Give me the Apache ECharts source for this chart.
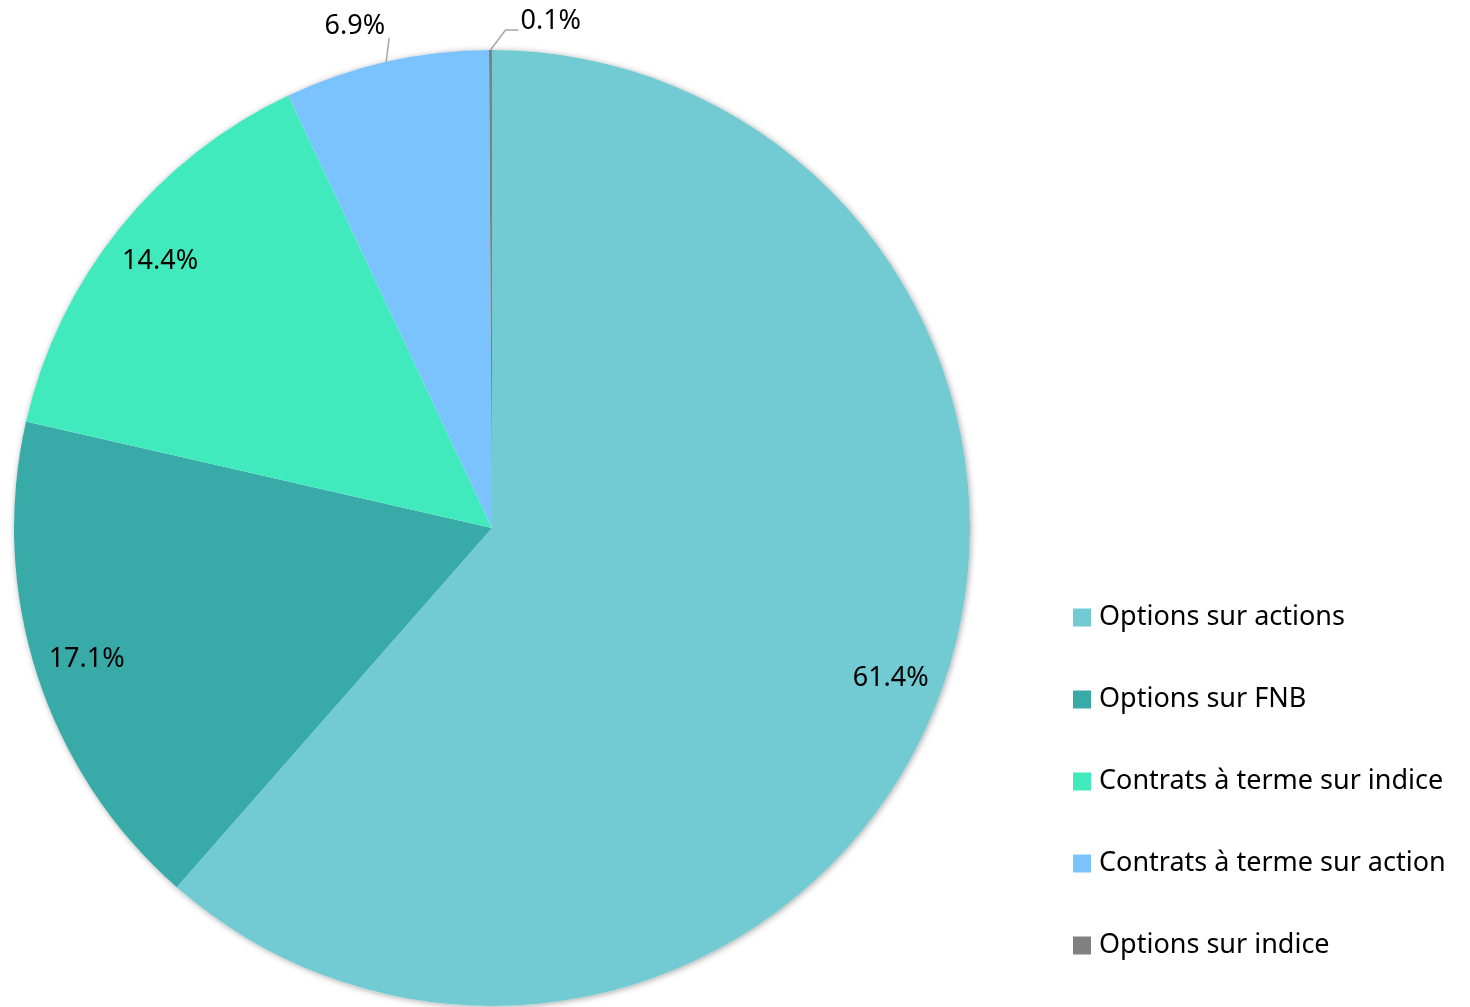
<!DOCTYPE html>
<html>
<head>
<meta charset="utf-8">
<script src="https://cdn.jsdelivr.net/npm/echarts@6/dist/echarts.min.js"></script>
<style>html,body{margin:0;padding:0;background:#fff;}#c{width:1470px;height:1007px;}</style>
</head>
<body>
<div id="c"></div>
<script>
var categories = ['Options sur actions', 'Options sur FNB', 'Contrats à terme sur indice', 'Contrats à terme sur action', 'Options sur indice'];
var values = [61.4, 17.1, 14.4, 6.9, 0.1];
var colors = ['#72CBD3', '#38ABA8', '#40EABD', '#7AC3FE', '#808080'];

var FONT = 'Noto Sans';
var FS = 27;
var CX = 492, CY = 528, R = 478;

var mainData = categories.map(function (n, i) {
  var big = values[i] >= 10;
  return {
    name: n, value: values[i],
    itemStyle: { color: colors[i] },
    label: { show: !big },
    labelLine: { show: !big }
  };
});
var overlayData = categories.map(function (n, i) {
  return { name: n, value: values[i], label: { show: values[i] >= 10 } };
});

var chart = echarts.init(document.getElementById('c'));
chart.setOption({
  animation: false,
  color: colors,
  legend: {
    data: categories,
    orient: 'vertical',
    left: 1068,
    top: 599,
    itemWidth: 18,
    itemHeight: 18,
    itemGap: 55,
    icon: 'rect',
    textStyle: { fontFamily: FONT, fontSize: FS, color: '#000', padding: [0, 0, 0, 3] },
    selectedMode: false
  },
  series: [
    {
      type: 'pie', silent: true, z: 1,
      center: [CX, CY], radius: R,
      label: { show: false }, labelLine: { show: false },
      itemStyle: { color: '#fff', shadowBlur: 6, shadowColor: 'rgba(0,0,0,0.35)', shadowOffsetX: 1, shadowOffsetY: 1 },
      data: [{ value: 1 }]
    },
    {
      type: 'pie', z: 2,
      center: [CX, CY], radius: R,
      startAngle: 90, clockwise: true,
      avoidLabelOverlap: false,
      label: {
        position: 'outside', formatter: function (p) { return p.value.toFixed(1) + '%'; },
        fontFamily: FONT, fontSize: FS, color: '#000'
      },
      labelLine: { length: 20, length2: 10, lineStyle: { color: '#a6a6a6', width: 1.5 } },
      labelLayout: function (p) {
        var pts = p.labelLinePoints;
        if (!pts) return {};
        var p0 = pts[0];
        if (p.dataIndex === 3) {
          var a1 = [p0[0] + 3, p0[1] - 24];
          return {
            x: a1[0] - 4, y: a1[1] - 12, align: 'right', verticalAlign: 'middle',
            labelLinePoints: [p0, a1, a1]
          };
        }
        if (p.dataIndex === 4) {
          var b1 = [p0[0] + 15, p0[1] - 20];
          var b2 = [b1[0] + 13, b1[1]];
          return {
            x: b2[0] + 2, y: b2[1] - 9, align: 'left', verticalAlign: 'middle',
            labelLinePoints: [p0, b1, b2]
          };
        }
        return {};
      },
      data: mainData
    },
    {
      type: 'pie', z: 3, silent: true,
      center: [CX, CY], radius: [R * 0.77, R],
      startAngle: 90, clockwise: true,
      itemStyle: { color: 'rgba(0,0,0,0)' },
      label: {
        position: 'inside', formatter: function (p) { return p.value.toFixed(1) + '%'; },
        fontFamily: FONT, fontSize: FS, color: '#000'
      },
      labelLine: { show: false },
      data: overlayData
    }
  ]
});
</script>
</body>
</html>
